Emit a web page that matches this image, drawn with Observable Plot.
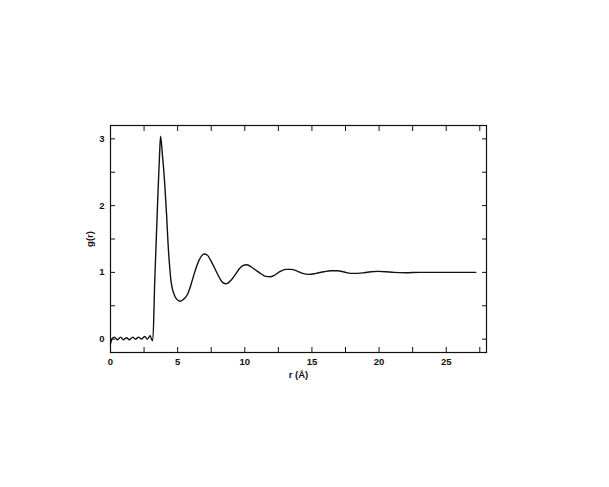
<!DOCTYPE html>
<html>
<head>
<meta charset="utf-8">
<script src="https://cdn.jsdelivr.net/npm/d3@7"></script>
<script src="https://cdn.jsdelivr.net/npm/@observablehq/plot@0.6"></script>
<style>
  html, body { margin: 0; padding: 0; background: #fff; }
  #chart svg { display: block; }
</style>
</head>
<body>
<div id="chart"></div>
<script>
// radial distance r (Å)
const rValues = [
  0, 0.1, 0.3, 0.5, 0.75, 0.95, 1.2, 1.4, 1.65, 1.85, 2.1, 2.3, 2.55, 2.75, 2.95, 3.1,
  3.15, 3.3, 3.5, 3.65, 3.73, 3.85, 4.03, 4.18, 4.28, 4.4, 4.5, 4.6, 4.72, 4.85, 5.0, 5.17,
  5.4, 5.72, 6.0, 6.22, 6.59, 6.96, 7.2, 7.46, 7.96, 8.3, 8.58, 8.96, 9.3, 9.58, 9.85,
  10.15, 10.45, 10.7, 10.95, 11.2, 11.57, 11.9, 12.19, 12.6, 13.06, 13.43, 13.9, 14.3,
  14.8, 15.3, 15.9, 16.4, 16.9, 17.4, 17.9, 18.4, 18.9, 19.4, 19.9, 20.5, 21.1, 22, 23,
  24, 25, 26, 27.2
];
// pair distribution g(r)
const gValues = [
  -0.07, 0.0, 0.03, -0.01, 0.03, -0.01, 0.02, -0.01, 0.03, 0.0, 0.03, 0.0, 0.04, 0.0, 0.05, -0.02,
  -0.02, 0.9, 2.0, 2.75, 3.04, 2.8, 2.35, 1.85, 1.45, 1.1, 0.88, 0.76, 0.68, 0.62, 0.585, 0.568,
  0.59, 0.665, 0.82, 0.97, 1.18, 1.275, 1.26, 1.18, 0.98, 0.86, 0.83, 0.88, 0.97, 1.05, 1.1,
  1.115, 1.085, 1.05, 1.015, 0.98, 0.94, 0.935, 0.955, 1.01, 1.045, 1.045, 1.02, 0.985,
  0.97, 0.985, 1.01, 1.025, 1.025, 1.005, 0.985, 0.985, 0.995, 1.01, 1.015, 1.01, 1.0, 0.995, 1.0,
  1.0, 1.0, 1.0, 1.0
];
const xTickLabels = [0, 5, 10, 15, 20, 25];
const yTickLabels = [0, 1, 2, 3];
const xTicksAll = [0, 2.5, 5, 7.5, 10, 12.5, 15, 17.5, 20, 22.5, 25, 27.5];
const yTicksAll = [0, 0.5, 1, 1.5, 2, 2.5, 3];

const data = rValues.map((r, i) => ({r, g: gValues[i]}));
const blank = () => "";
const plain = (d) => String(d);

const chart = Plot.plot({
  width: 609,
  height: 487,
  marginLeft: 110,
  marginRight: 123,
  marginTop: 125,
  marginBottom: 135,
  style: {fontFamily: "Liberation Sans, Arial, sans-serif", fontSize: "9.5px", fontWeight: "bold", background: "#fff", color: "#111"},
  x: {domain: [0, 28]},
  y: {domain: [-0.2, 3.2]},
  marks: [
    Plot.frame({stroke: "#111", strokeWidth: 1.2}),
    // inward ticks on all four sides
    Plot.axisX({anchor: "bottom", ticks: xTicksAll, tickSize: -5, tickFormat: blank, label: null}),
    Plot.axisX({anchor: "top", ticks: xTicksAll, tickSize: -5, tickFormat: blank, label: null}),
    Plot.axisY({anchor: "left", ticks: yTicksAll, tickSize: -5, tickFormat: blank, label: null}),
    Plot.axisY({anchor: "right", ticks: yTicksAll, tickSize: -5, tickFormat: blank, label: null}),
    // labels
    Plot.axisX({anchor: "bottom", ticks: xTickLabels, tickSize: 0, tickPadding: 6, tickFormat: plain, label: "r (Å)", labelAnchor: "center", labelArrow: "none", labelOffset: 25}),
    Plot.axisY({anchor: "left", ticks: yTickLabels, tickSize: 0, tickPadding: 6, tickFormat: plain, label: "g(r)", labelAnchor: "center", labelArrow: "none", labelOffset: 24}),
    Plot.line(data, {x: "r", y: "g", stroke: "#111", strokeWidth: 1.4, curve: "monotone-x"})
  ]
});
document.getElementById("chart").append(chart);
</script>
</body>
</html>
